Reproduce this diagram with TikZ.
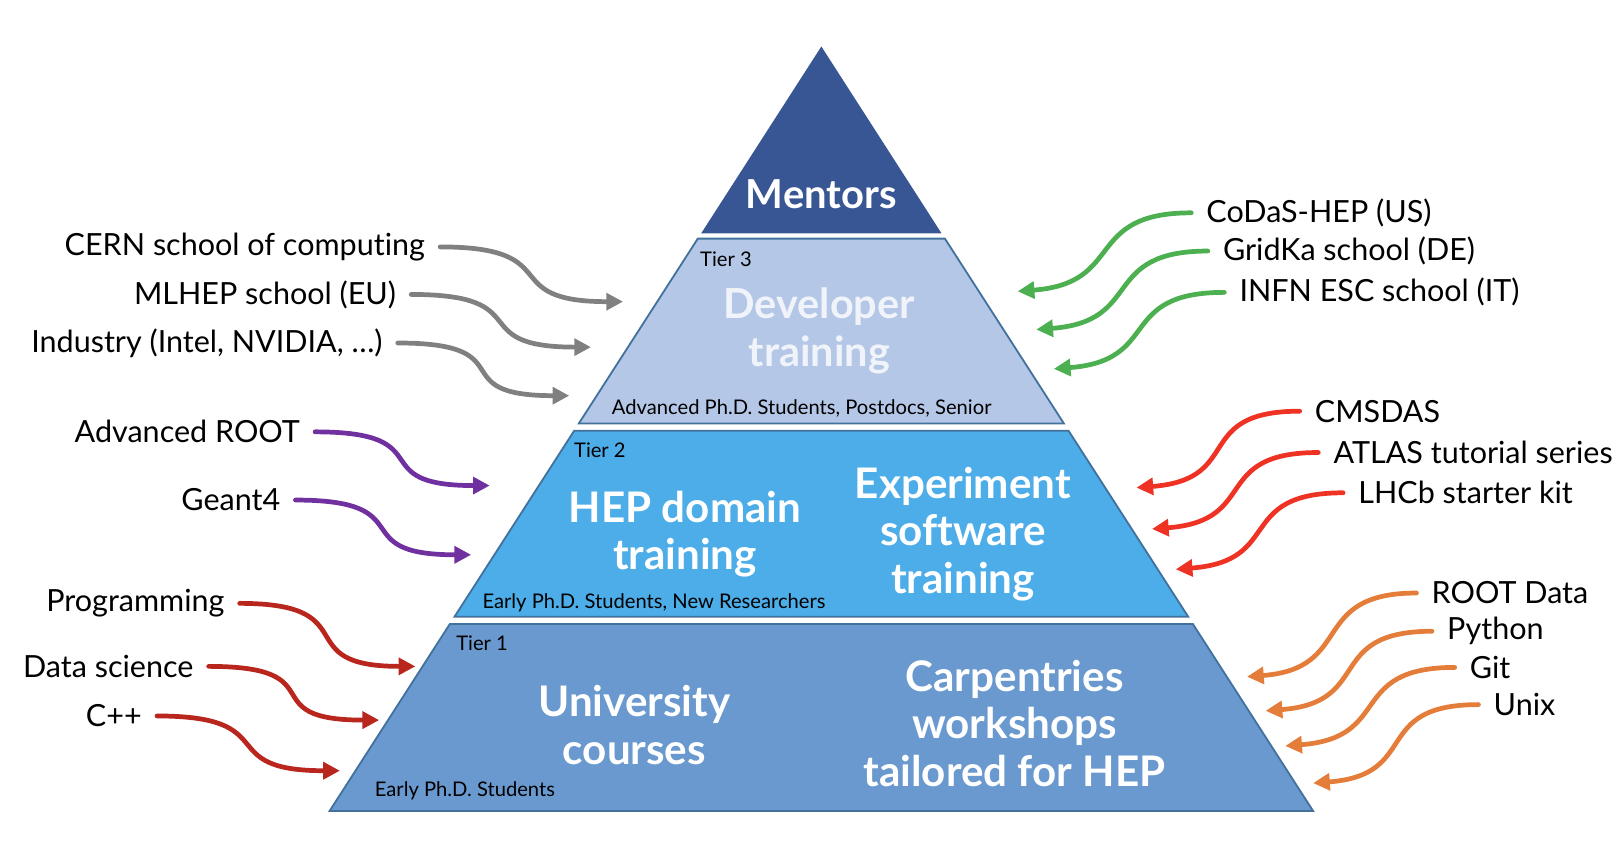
\documentclass[tikz,border=0pt]{standalone}
\usepackage{fontspec}
\setmainfont{Lato}[Ligatures=NoCommon]
\usetikzlibrary{arrows.meta}
\definecolor{mentorblue}{RGB}{56,86,147}
\definecolor{tierthree}{RGB}{180,199,231}
\definecolor{tiertwo}{RGB}{76,173,232}
\definecolor{tierone}{RGB}{105,153,207}
\definecolor{edgeblue}{RGB}{65,113,156}
\definecolor{arrgray}{RGB}{128,128,128}
\definecolor{arrpurple}{RGB}{112,48,160}
\definecolor{arrdarkred}{RGB}{184,38,30}
\definecolor{arrgreen}{RGB}{76,175,80}
\definecolor{arrred}{RGB}{238,50,36}
\definecolor{arrorange}{RGB}{228,125,58}
\tikzset{
  lbl/.style={font=\fontsize{8.4}{10}\selectfont, inner sep=4pt},
  tiernote/.style={font=\fontsize{5.55}{6.5}\selectfont, inner sep=0pt},
  bigtext/.style={font=\fontsize{11.6}{13.1}\selectfont\bfseries, text=white, align=center},
  tierbox/.style={draw=edgeblue, line width=0.5pt},
  feed/.style={line width=1.3pt, line cap=round, -{Triangle[length=4.6pt,width=4.6pt]}},
}
\begin{document}
\begin{tikzpicture}[x=0.01cm, y=-0.01cm]
  \useasboundingbox (0,0) rectangle (1568,828);
  % pyramid
  \fill[mentorblue] (795,45) -- (911.4,226) -- (678.6,226) -- cycle;
  \filldraw[tierbox, fill=tierthree] (675.4,231) -- (914.6,231) -- (1029.8,410) -- (560.2,410) -- cycle;
  \filldraw[tierbox, fill=tiertwo] (555.7,417) -- (1034.3,417) -- (1150.1,597) -- (439.9,597) -- cycle;
  \filldraw[tierbox, fill=tierone] (435.4,604) -- (1154.6,604) -- (1271,785) -- (319,785) -- cycle;

  \node[bigtext, font=\fontsize{11}{13.1}\selectfont\bfseries] (mentors) at (795,188) {Mentors};
  \node[bigtext, text=tierthree!20!white, font=\fontsize{11.4}{13.1}\selectfont\bfseries] (developer) at (793,320) {Developer\\training};
  \node[bigtext] (domain) at (663,517) {HEP domain\\training};
  \node[bigtext] (experiment) at (932,517) {Experiment\\software\\training};
  \node[bigtext] (university) at (614,702) {University\\courses};
  \node[bigtext] (carpentries) at (982,700) {Carpentries\\workshops\\tailored for HEP};

  \node[tiernote, anchor=west] (tierc) at (677,251) {Tier 3};
  \node[tiernote, anchor=west] (tierb) at (555,436) {Tier 2};
  \node[tiernote, anchor=west] (tiera) at (441,623) {Tier 1};
  \node[tiernote] (seniors) at (776,395) {Advanced Ph.D. Students, Postdocs, Senior};
  \node[tiernote] (juniors) at (633,583) {Early Ph.D. Students, New Researchers};
  \node[tiernote] (students) at (450,765) {Early Ph.D. Students};

  % left inputs
  \node[lbl, anchor=east] (cern) at (426,239) {CERN school of computing};
  \node[lbl, anchor=east] (mlhep) at (398,285) {MLHEP school (EU)};
  \node[lbl, anchor=east] (industry) at (385,332) {Industry (Intel, NVIDIA, …)};
  \node[lbl, anchor=east] (advroot) at (305,418) {Advanced ROOT};
  \node[lbl, anchor=east] (geant) at (286,484) {Geant4};
  \node[lbl, anchor=east] (prog) at (232,584) {Programming};
  \node[lbl, anchor=east] (datasci) at (202,645) {Data science};
  \node[lbl, anchor=east] (cpp) at (152,693) {C++};
  \coordinate (cernT) at (603,292);
  \coordinate (mlhepT) at (572,336);
  \coordinate (industryT) at (551,383);
  \coordinate (advrootT) at (474,470);
  \coordinate (geantT) at (456,537);
  \coordinate (progT) at (402,645);
  \coordinate (datasciT) at (367,697);
  \coordinate (cppT) at (329,746);
  \draw[feed, arrgray] (cern.east) .. controls +(125,0) and +(-125,0) .. (cernT);
  \draw[feed, arrgray] (mlhep.east) .. controls +(125,0) and +(-125,0) .. (mlhepT);
  \draw[feed, arrgray] (industry.east) .. controls +(125,0) and +(-125,0) .. (industryT);
  \draw[feed, arrpurple] (advroot.east) .. controls +(125,0) and +(-125,0) .. (advrootT);
  \draw[feed, arrpurple] (geant.east) .. controls +(125,0) and +(-125,0) .. (geantT);
  \draw[feed, arrdarkred] (prog.east) .. controls +(125,0) and +(-125,0) .. (progT);
  \draw[feed, arrdarkred] (datasci.east) .. controls +(125,0) and +(-125,0) .. (datasciT);
  \draw[feed, arrdarkred] (cpp.east) .. controls +(125,0) and +(-125,0) .. (cppT);

  % right inputs
  \node[lbl, anchor=west] (codas) at (1153,206) {CoDaS-HEP (US)};
  \node[lbl, anchor=west] (gridka) at (1169,243) {GridKa school (DE)};
  \node[lbl, anchor=west] (infn) at (1185,283) {INFN ESC school (IT)};
  \node[lbl, anchor=west] (cmsdas) at (1258,398) {CMSDAS};
  \node[lbl, anchor=west] (atlas) at (1276,438) {ATLAS tutorial series};
  \node[lbl, anchor=west] (lhcb) at (1300,477) {LHCb starter kit};
  \node[lbl, anchor=west] (rootdata) at (1371,574) {ROOT Data};
  \node[lbl, anchor=west] (python) at (1386,611) {Python};
  \node[lbl, anchor=west] (git) at (1408,646) {Git};
  \node[lbl, anchor=west] (unix) at (1431,682) {Unix};
  \coordinate (codasT) at (985,282);
  \coordinate (gridkaT) at (1003,319);
  \coordinate (infnT) at (1020,357);
  \coordinate (cmsdasT) at (1100,472);
  \coordinate (atlasT) at (1115,512);
  \coordinate (lhcbT) at (1138,551);
  \coordinate (rootdataT) at (1207,655);
  \coordinate (pythonT) at (1225,688);
  \coordinate (gitT) at (1244,722);
  \coordinate (unixT) at (1271,758);
  \draw[feed, arrgreen] (codas.west) .. controls +(-105,0) and +(105,-8) .. (codasT);
  \draw[feed, arrgreen] (gridka.west) .. controls +(-105,0) and +(105,-8) .. (gridkaT);
  \draw[feed, arrgreen] (infn.west) .. controls +(-105,0) and +(105,-8) .. (infnT);
  \draw[feed, arrred] (cmsdas.west) .. controls +(-105,0) and +(105,-8) .. (cmsdasT);
  \draw[feed, arrred] (atlas.west) .. controls +(-105,0) and +(105,-8) .. (atlasT);
  \draw[feed, arrred] (lhcb.west) .. controls +(-105,0) and +(105,-8) .. (lhcbT);
  \draw[feed, arrorange] (rootdata.west) .. controls +(-105,0) and +(105,-8) .. (rootdataT);
  \draw[feed, arrorange] (python.west) .. controls +(-105,0) and +(105,-8) .. (pythonT);
  \draw[feed, arrorange] (git.west) .. controls +(-105,0) and +(105,-8) .. (gitT);
  \draw[feed, arrorange] (unix.west) .. controls +(-105,0) and +(105,-8) .. (unixT);
\end{tikzpicture}
\end{document}
